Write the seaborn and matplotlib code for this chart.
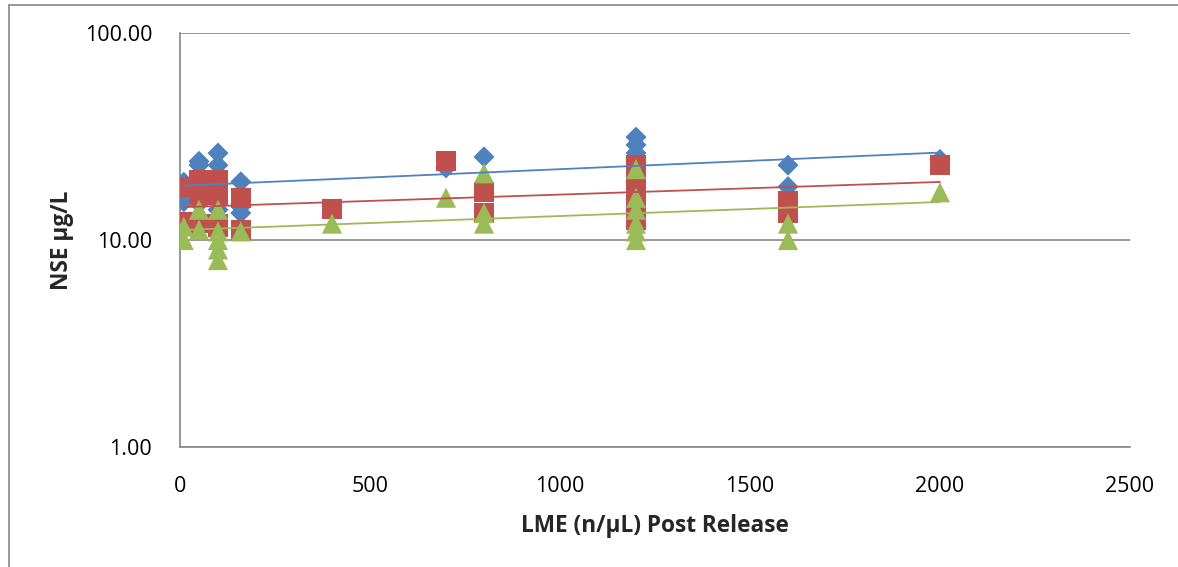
import numpy as np
import pandas as pd
import matplotlib
matplotlib.use('Agg')
import matplotlib.pyplot as plt
from matplotlib.lines import Line2D
from matplotlib.ticker import FixedLocator, FormatStrFormatter, NullLocator
import seaborn as sns

# ========== data ==========
blue_x = [10, 10, 10, 50, 50, 50, 100, 100, 100, 160, 160, 160, 700, 800,
          1200, 1200, 1200, 1200, 1600, 1600, 2000]
blue_y = [19.0, 16.0, 15.3, 24.0, 23.0, 15.0, 26.3, 23.0, 14.0, 19.1, 14.5, 13.5, 22.3, 25.2,
          31.4, 28.8, 26.3, 19.0, 23.0, 18.1, 24.5]

red_x = [10, 10, 10, 50, 50, 50, 100, 100, 100, 100, 160, 160, 400, 700, 800, 800,
         1200, 1200, 1200, 1200, 1200, 1200, 1600, 1600, 2000]
red_y = [18.0, 12.2, 11.8, 19.5, 16.5, 12.0, 19.5, 16.5, 12.0, 11.5, 16.0, 11.2, 14.1, 24.0, 17.0, 13.5,
         23.0, 21.0, 19.5, 17.5, 14.0, 12.5, 15.5, 13.5, 23.0]

green_x = [10, 10, 50, 50, 100, 100, 100, 100, 100, 160, 400, 700, 800, 800, 800,
           1200, 1200, 1200, 1200, 1200, 1200, 1600, 1600, 2000]
green_y = [11.6, 10.0, 14.0, 11.2, 14.0, 11.0, 10.0, 9.0, 8.0, 11.0, 12.0, 16.0, 21.0, 13.5, 12.0,
           22.0, 16.0, 14.0, 12.0, 11.0, 10.0, 12.0, 10.0, 17.0]

x_ticks = [0, 500, 1000, 1500, 2000, 2500]
y_ticks = [1, 10, 100]

# ========== styling ==========
sns.set_style('white')
plt.rcParams['font.family'] = ['Open Sans', 'DejaVu Sans']

series = [
    ('blue', blue_x, blue_y, '#4F81BD', 'D', 115),
    ('red', red_x, red_y, '#C0504D', 's', 200),
    ('green', green_x, green_y, '#9BBB59', '^', 210),
]

fig = plt.figure(figsize=(11.78, 5.67), dpi=100)
ax = fig.add_axes([180 / 1178, 1 - 447 / 567, 950 / 1178, 414 / 567])

for name, xs, ys, col, mk, sz in series:
    df = pd.DataFrame({'x': xs, 'y': ys})
    sns.scatterplot(data=df, x='x', y='y', ax=ax, color=col, marker=mk, s=sz,
                    edgecolor='none', linewidth=0, zorder=3)

# exponential trend lines (straight on the log axis)
for name, xs, ys, col, mk, sz in series:
    xs = np.array(xs, dtype=float)
    b, a = np.polyfit(xs, np.log(ys), 1)
    xx = np.array([xs.min(), xs.max()])
    ax.plot(xx, np.exp(a + b * xx), color=col, lw=1.3, zorder=4)

ax.set_yscale('log')
ax.set_xlim(0, 2500)
ax.set_ylim(1, 100)
ax.xaxis.set_major_locator(FixedLocator(x_ticks))
ax.yaxis.set_major_locator(FixedLocator(y_ticks))
ax.yaxis.set_minor_locator(NullLocator())
ax.yaxis.set_major_formatter(FormatStrFormatter('%.2f'))

ax.grid(axis='y', color='#868686', lw=1.2)
ax.grid(axis='x', visible=False)
ax.set_axisbelow(True)
for s in ['top', 'right']:
    ax.spines[s].set_visible(False)
for s in ['left', 'bottom']:
    ax.spines[s].set_color('#868686')
    ax.spines[s].set_linewidth(1.2)

ax.tick_params(axis='both', which='major', direction='out', length=5, width=1.2,
               color='#868686', labelsize=15.5, labelcolor='black')
ax.tick_params(axis='y', pad=15)
ax.tick_params(axis='x', pad=16)
ax.tick_params(which='minor', length=0)

ax.set_xlabel('LME (n/µL) Post Release', fontsize=16.3, fontweight='bold', labelpad=12)
ax.set_ylabel('NSE µg/L', fontsize=16.3, fontweight='bold', labelpad=8)

# outer chart frame
fig.add_artist(Line2D([8.5 / 1178, 8.5 / 1178], [0, 1 - 5 / 567], transform=fig.transFigure,
                      color='#868686', lw=1.2))
fig.add_artist(Line2D([8.5 / 1178, 1], [1 - 5 / 567, 1 - 5 / 567], transform=fig.transFigure,
                      color='#868686', lw=1.2))

fig.savefig('out.png', dpi=100)
